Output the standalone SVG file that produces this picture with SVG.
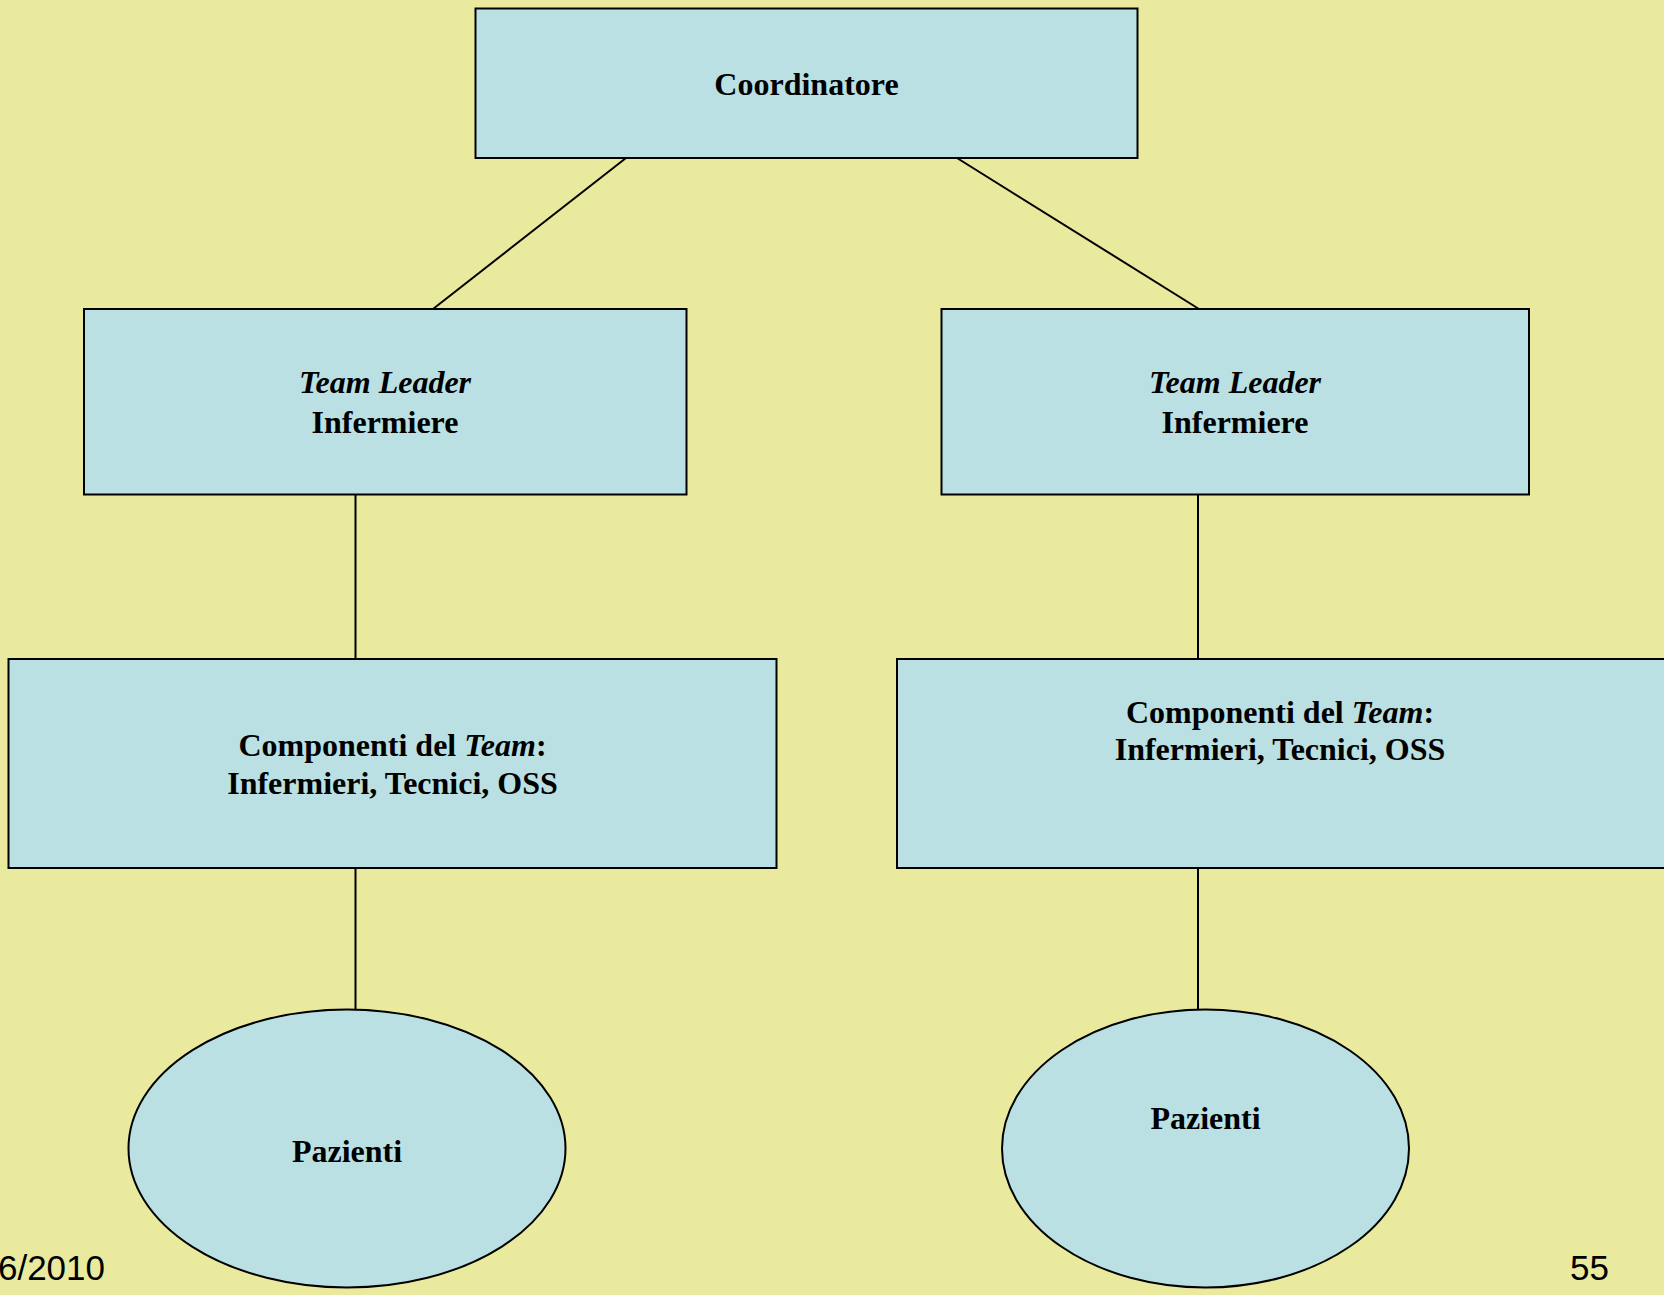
<svg xmlns="http://www.w3.org/2000/svg" width="1664" height="1295" viewBox="0 0 1664 1295">
<style>
.box{fill:#BAE0E3;stroke:#000;stroke-width:2}
.lbl{font-family:"Liberation Serif","Times New Roman",serif;font-weight:bold;font-size:32px;fill:#000;text-anchor:middle}
.it{font-style:italic}
.con{stroke:#000;stroke-width:2;fill:none}
.foot{font-family:"Liberation Sans",Arial,sans-serif;font-size:35px;fill:#000}
</style>
<rect x="0" y="0" width="1664" height="1295" fill="#EAEA9E"/>
<g id="connectors">
<line class="con" x1="626" y1="158" x2="433" y2="309"/>
<line class="con" x1="957" y1="158" x2="1199" y2="309"/>
<line class="con" x1="355.5" y1="494.5" x2="355.5" y2="659"/>
<line class="con" x1="1198" y1="494.5" x2="1198" y2="659"/>
<line class="con" x1="355.5" y1="868" x2="355.5" y2="1009.5"/>
<line class="con" x1="1198" y1="868" x2="1198" y2="1009.5"/>
</g>
<g id="coordinatore">
<rect class="box" x="475.5" y="8.5" width="662" height="149.5"/>
<text class="lbl" x="806.5" y="95">Coordinatore</text>
</g>
<g id="teamleader-left">
<rect class="box" x="84" y="309" width="602.5" height="185.5"/>
<text class="lbl" x="385" y="393"><tspan class="it">Team Leader</tspan></text>
<text class="lbl" x="385" y="433">Infermiere</text>
</g>
<g id="teamleader-right">
<rect class="box" x="941.5" y="309" width="587.5" height="185.5"/>
<text class="lbl" x="1235" y="393"><tspan class="it">Team Leader</tspan></text>
<text class="lbl" x="1235" y="433">Infermiere</text>
</g>
<g id="componenti-left">
<rect class="box" x="8.5" y="659" width="768" height="209"/>
<text class="lbl" x="392.5" y="756">Componenti del <tspan class="it">Team</tspan>:</text>
<text class="lbl" x="392.5" y="794">Infermieri, Tecnici, OSS</text>
</g>
<g id="componenti-right">
<rect class="box" x="897" y="659" width="770" height="209"/>
<text class="lbl" x="1280" y="722.5">Componenti del <tspan class="it">Team</tspan>:</text>
<text class="lbl" x="1280" y="760">Infermieri, Tecnici, OSS</text>
</g>
<g id="pazienti-left">
<ellipse class="box" cx="347" cy="1148.5" rx="218.5" ry="139"/>
<text class="lbl" x="347" y="1161.5">Pazienti</text>
</g>
<g id="pazienti-right">
<ellipse class="box" cx="1205.5" cy="1148.5" rx="203.5" ry="139"/>
<text class="lbl" x="1205.5" y="1129">Pazienti</text>
</g>
<text class="foot" x="105" y="1280" text-anchor="end">6/2010</text>
<text class="foot" x="1609" y="1280" text-anchor="end">55</text>
</svg>
